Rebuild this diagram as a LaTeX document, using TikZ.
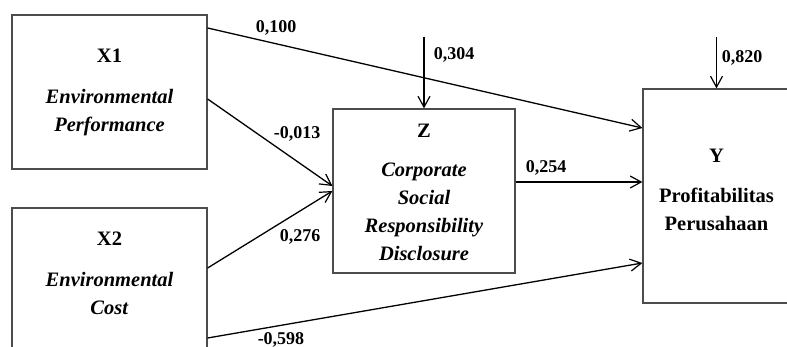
\documentclass[tikz,border=0pt]{standalone}
\usepackage{fontspec}
\setmainfont{Liberation Serif}
\usetikzlibrary{arrows.meta}
\begin{document}
\begin{tikzpicture}[x=1pt,y=-1pt,
				box/.style={rectangle,draw=black!70,line width=1.2pt,inner sep=0pt},
				txt/.style={align=center,inner sep=0pt,font=\fontsize{20.5}{28}\selectfont\bfseries},
				coef/.style={inner sep=0pt,font=\fontsize{18}{20}\selectfont\bfseries},
				link/.style={line width=1.3pt,-{Straight Barb[length=11pt,width=12pt,line width=1.2pt]}}]
\useasboundingbox (0,0) rectangle (787,347);
\clip (0,0) rectangle (787,347);
\node[box,minimum width=195pt,minimum height=154pt] (x1) at (109.5,92) {};
\node[box,minimum width=195pt,minimum height=152pt] (x2) at (109.5,284) {};
\node[box,minimum width=182pt,minimum height=164pt] (z) at (424,191) {};
\node[box,minimum width=147pt,minimum height=214pt] (y) at (716.5,196) {};
\node[txt] (x1t) at (109.5,92) {X1\\[13pt]\textit{Environmental}\\\textit{Performance}};
\node[txt] (x2t) at (109.5,273) {X2\\[13pt]\textit{Environmental}\\\textit{Cost}};
\node[txt] (zt) at (424,192) {Z\\[11pt]\textit{Corporate}\\\textit{Social}\\\textit{Responsibility}\\\textit{Disclosure}};
\node[txt] (yt) at (716.5,190) {Y\\[12pt]Profitabilitas\\Perusahaan};
\coordinate (ez) at (424,37);
\coordinate (ey) at (716.5,37);
\draw[link] (x1.east |- 0,28) -- (y.west |- 0,128);
\draw[link] (x1.east |- 0,99) -- (z.west |- 0,186);
\draw[link] (x2.east |- 0,268) -- (z.west |- 0,191);
\draw[link] (z.east |- 0,182) -- (y.west |- 0,182);
\draw[link] (x2.east |- 0,338) -- (y.west |- 0,263);
\draw[link] (ez) -- (z.north);
\draw[link] (ey) -- (y.north);
\node[coef] (c1) at (276,28) {0,100};
\node[coef] (c2) at (297,134) {-0,013};
\node[coef] (c3) at (300,237) {0,276};
\node[coef] (c4) at (546,168) {0,254};
\node[coef] (c5) at (281,340) {-0,598};
\node[coef] (c6) at (454,55) {0,304};
\node[coef] (c7) at (742,58) {0,820};
\end{tikzpicture}
\end{document}
